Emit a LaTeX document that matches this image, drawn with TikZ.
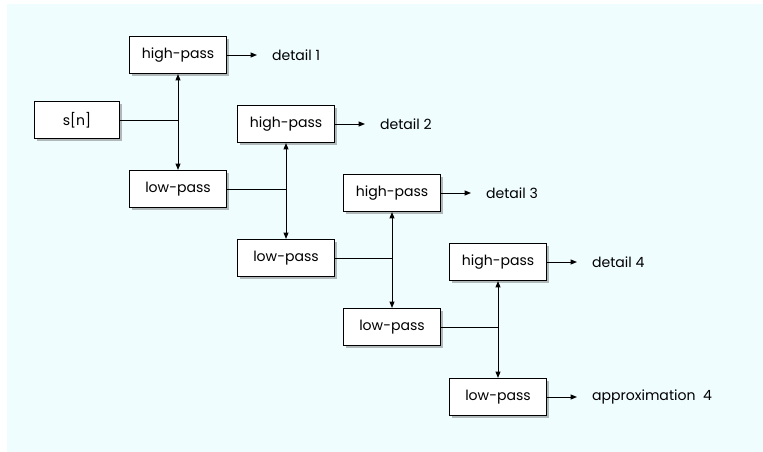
\documentclass[tikz,border=0pt]{standalone}
\usepackage{fontspec}
\setmainfont{Poppins}
\usetikzlibrary{shadows}
\usetikzlibrary{arrows.meta}

\definecolor{bgcyan}{RGB}{240,253,255}

\tikzset{
  filterbox/.style={draw=black,fill=white,line width=0.8pt,minimum width=2.425cm,minimum height=0.925cm,
    font=\fontsize{10}{12}\selectfont,
    drop shadow={shadow xshift=2pt,shadow yshift=-2pt,opacity=0.45,fill=black!60}},
  outlabel/.style={anchor=west,inner xsep=10.5pt,font=\fontsize{10}{12}\selectfont},
  wire/.style={line width=0.7pt},
  flow/.style={line width=0.7pt,-{Triangle[length=4.5pt,width=3.5pt]}}
}

\begin{document}
\begin{tikzpicture}[x=0.025cm,y=-0.025cm]
\useasboundingbox (0,0) rectangle (763,452);
\fill[white] (0,0) rectangle (763,452);
\fill[bgcyan] (7,4) rectangle (763,452);

% input
\node[filterbox,minimum width=2.125cm] (in) at (77,120) {s[n]};

% stage 1
\node[filterbox] (hp1) at (178,55) {high-pass};
\node[filterbox] (lp1) at (178,189) {low-pass};
\node[outlabel] (d1) at (257,55) {detail 1};
\coordinate (j1) at (hp1 |- in);
\draw[wire] (in.east) -- (j1);
\draw[flow] (j1) -- (hp1.south);
\draw[flow] (j1) -- (lp1.north);
\draw[flow] (hp1.east) -- (d1.west);

% stage 2
\node[filterbox] (hp2) at (286,124) {high-pass};
\node[filterbox] (lp2) at (286,258) {low-pass};
\node[outlabel] (d2) at (365,124) {detail 2};
\coordinate (j2) at (hp2 |- lp1);
\draw[wire] (lp1.east) -- (j2);
\draw[flow] (j2) -- (hp2.south);
\draw[flow] (j2) -- (lp2.north);
\draw[flow] (hp2.east) -- (d2.west);

% stage 3
\node[filterbox] (hp3) at (392,193) {high-pass};
\node[filterbox] (lp3) at (392,327) {low-pass};
\node[outlabel] (d3) at (471,193) {detail 3};
\coordinate (j3) at (hp3 |- lp2);
\draw[wire] (lp2.east) -- (j3);
\draw[flow] (j3) -- (hp3.south);
\draw[flow] (j3) -- (lp3.north);
\draw[flow] (hp3.east) -- (d3.west);

% stage 4
\node[filterbox] (hp4) at (498,262) {high-pass};
\node[filterbox] (lp4) at (498,397) {low-pass};
\node[outlabel] (d4) at (577,262) {detail 4};
\node[outlabel] (a4) at (577,397) {approximation\ \ 4};
\coordinate (j4) at (hp4 |- lp3);
\draw[wire] (lp3.east) -- (j4);
\draw[flow] (j4) -- (hp4.south);
\draw[flow] (j4) -- (lp4.north);
\draw[flow] (hp4.east) -- (d4.west);
\draw[flow] (lp4.east) -- (a4.west);

\end{tikzpicture}
\end{document}
